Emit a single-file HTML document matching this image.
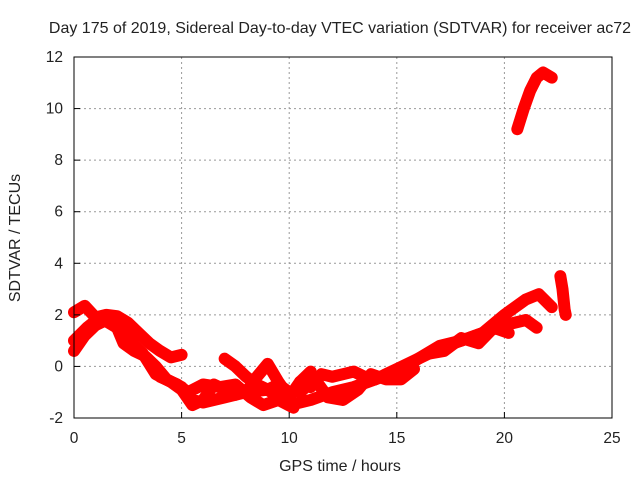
<!DOCTYPE html>
<html><head><meta charset="utf-8"><style>
body{margin:0;background:#fff}
svg text{font-family:"Liberation Sans",sans-serif;font-size:15.5px;fill:#222}
</style></head><body>
<svg id="chart" width="640" height="480" xmlns="http://www.w3.org/2000/svg">
<rect width="640" height="480" fill="#fff"/>
<text x="340" y="33" text-anchor="middle" style="font-size:16px">Day 175 of 2019, Sidereal Day-to-day VTEC variation (SDTVAR) for receiver ac72</text>
<text x="340" y="471" text-anchor="middle" style="font-size:16px">GPS time / hours</text>
<text transform="translate(20,238) rotate(-90)" text-anchor="middle" style="font-size:16px">SDTVAR / TECUs</text>
<g id="grid"></g><g id="marks"></g><g id="axes"></g>
</svg>
<script>
const xTicks=[0,5,10,15,20,25];
const yTicks=[-2,0,2,4,6,8,10,12];
const trackA=[[0,2.1],[0.5,2.35],[1.0,1.9],[1.5,2.0],[2.0,1.95],[2.5,1.7],[3.0,1.3],[3.5,0.9],[4.0,0.6],[4.5,0.35],[5.0,0.45]];
const trackB=[[0,0.6],[0.5,1.2],[1.0,1.6],[1.5,1.8],[2.0,1.5],[2.3,0.9],[2.8,0.6],[3.3,0.4],[3.8,0.0],[4.3,-0.5],[5.0,-0.8],[5.5,-1.3],[6.0,-1.4],[7.0,-1.2],[8.0,-1.0],[9.0,-0.9],[10.0,-1.5],[11.0,-1.3],[12.0,-1.0],[13.0,-0.8],[14.0,-0.5],[15.0,-0.2],[16.0,0.3],[17.0,0.7],[18.0,1.0],[19.0,1.3],[20.0,1.6],[21.0,1.8],[21.5,1.5]];
const trackC=[[0,1.0],[0.6,1.5],[1.2,1.9],[2.0,1.5],[2.6,1.0],[3.2,0.5],[3.8,-0.3],[4.5,-0.6],[5.0,-0.9],[5.5,-1.5],[6.0,-1.3],[6.5,-0.7],[7.0,-0.9],[7.5,-1.1]];
const trackD=[[7.0,0.3],[7.5,0.0],[8.0,-0.4],[8.5,-0.7],[9.0,-0.9],[9.5,-0.7],[10.0,-1.0]];
const trackE=[[8.0,-1.0],[8.5,-0.4],[9.0,0.1],[9.5,-0.6],[10.0,-1.2],[10.5,-0.6],[11.0,-0.2]];
const trackF=[[10.5,-0.6],[11.0,-0.8],[11.5,-0.3],[12.0,-0.4],[12.5,-0.3],[13.0,-0.2],[13.5,-0.4],[14.0,-0.5],[15.0,-0.1],[16.0,0.3],[17.0,0.8],[18.0,1.0],[19.0,1.3],[20.0,2.0],[21.0,2.6],[21.6,2.8],[22.2,2.3]];
const trackG=[[20.6,9.2],[20.9,10.0],[21.2,10.7],[21.5,11.2],[21.8,11.4],[22.2,11.2]];
const trackH=[[22.6,3.5],[22.7,3.0],[22.75,2.6],[22.8,2.2],[22.85,2.0]];
const trackI=[[4.0,-0.4],[4.8,-0.7],[5.3,-1.0],[6.0,-0.7],[6.8,-0.8],[7.5,-0.7],[8.2,-1.2],[8.8,-1.5],[9.5,-1.3],[10.2,-1.6]];
const trackJ=[[10.5,-1.0],[11.2,-0.5],[11.8,-1.2],[12.5,-1.3],[13.2,-0.9],[13.8,-0.3],[14.5,-0.5],[15.2,-0.5],[15.8,-0.1]];
const trackK=[[16.5,0.5],[17.2,0.6],[18.0,1.1],[18.8,0.9],[19.5,1.5],[20.2,1.3]];
const tracks=[trackA,trackB,trackC,trackD,trackE,trackF,trackG,trackH,trackI,trackJ,trackK];
const X0=74,X1=612,Y0=418,Y1=57;
const sx=t=>X0+(t-0)/(25-0)*(X1-X0);
const sy=v=>Y0-(v+2)/(12+2)*(Y0-Y1);
const NS="http://www.w3.org/2000/svg";
const grid=document.getElementById('grid'),marks=document.getElementById('marks'),axes=document.getElementById('axes');
function mk(tag,attrs,parent){const e=document.createElementNS(NS,tag);for(const k in attrs)e.setAttribute(k,attrs[k]);parent.appendChild(e);return e;}
xTicks.forEach(t=>{
 if(t>0&&t<25){const g=mk('line',{x1:sx(t),x2:sx(t),y1:Y1,y2:Y0,stroke:'#999','stroke-dasharray':'2,3'},grid);
 
 }
 const tk=mk('line',{x1:sx(t),x2:sx(t),y1:Y0,y2:Y0-6,stroke:'#000'},axes);
 
 
 const lb=mk('text',{x:sx(t),y:Y0+25,'text-anchor':'middle'},axes);lb.textContent=t;
 
 
});
yTicks.forEach(v=>{
 if(v>-2&&v<12){const g=mk('line',{x1:X0,x2:X1,y1:sy(v),y2:sy(v),stroke:'#999','stroke-dasharray':'2,3'},grid);
 
 }
 const tk=mk('line',{x1:X0,x2:X0+6,y1:sy(v),y2:sy(v),stroke:'#000'},axes);
 
 
 const lb=mk('text',{x:X0-11,y:sy(v)+5,'text-anchor':'end'},axes);lb.textContent=v;
 
 
});
const frame=mk('rect',{x:X0,y:Y1,width:X1-X0,height:Y0-Y1,fill:'none',stroke:'#000'},axes);


tracks.forEach(tr=>{
 const pl=mk('polyline',{points:tr.map(p=>sx(p[0])+','+sy(p[1])).join(' '),fill:'none',stroke:'#f00','stroke-width':12,'stroke-linejoin':'round','stroke-linecap':'round'},marks);
 
 
 tr.forEach(p=>{
  const x=sx(p[0]),y=sy(p[1]);
  const m=mk('path',{d:`M${x-5},${y}H${x+5}M${x},${y-5}V${y+5}`,stroke:'#f00','stroke-width':1.5},marks);
  
  
 });
});
</script>
</body></html>
